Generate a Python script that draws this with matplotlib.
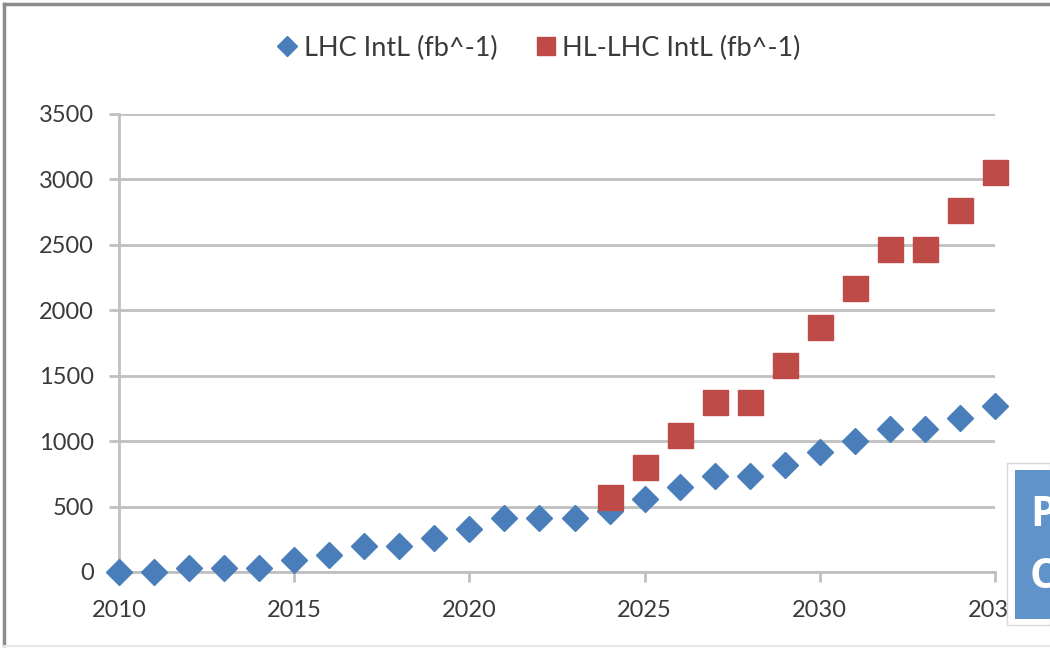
import matplotlib
matplotlib.use("Agg")
import matplotlib.pyplot as plt
from matplotlib.patches import Rectangle
from matplotlib.lines import Line2D

years = list(range(2010, 2036))
lhc = [2, 2, 30, 30, 30, 90, 130, 200, 200, 260, 330, 410, 410, 410, 465, 560,
       650, 730, 730, 820, 915, 1000, 1090, 1090, 1180, 1270]
hl_years = list(range(2024, 2036))
hl_lhc = [575, 805, 1050, 1300, 1300, 1580, 1870, 2170, 2470, 2470, 2770, 3060]
xticks = [2010, 2015, 2020, 2025, 2030, 2035]
yticks = [0, 500, 1000, 1500, 2000, 2500, 3000, 3500]
labels = ["LHC IntL (fb^-1)", "HL-LHC IntL (fb^-1)"]

plt.rcParams['font.family'] = ['Lato', 'DejaVu Sans']
W, H = 1050, 648
fig = plt.figure(figsize=(W / 100, H / 100), dpi=100)
ax = fig.add_axes([119 / W, 1 - 572 / H, (995 - 119) / W, (572 - 114) / H])

grid_c = '#c0c0c0'
text_c = '#3a3a3a'
blue = '#4a7ebb'
red = '#be4b48'

ax.set_xlim(2010, 2035)
ax.set_ylim(0, 3500)
ax.set_xticks(xticks)
ax.set_yticks(yticks)
ax.set_xticklabels([str(v) for v in xticks])
ax.set_yticklabels([str(v) for v in yticks])
ax.yaxis.grid(True, color=grid_c, linewidth=2)
ax.set_axisbelow(True)
for s in ['top', 'right']:
    ax.spines[s].set_visible(False)
for s in ['left', 'bottom']:
    ax.spines[s].set_color(grid_c)
    ax.spines[s].set_linewidth(2)
ax.tick_params(axis='y', length=7, width=2, color=grid_c, labelsize=17,
               labelcolor=text_c, pad=11)
ax.tick_params(axis='x', length=7, width=2, color=grid_c, labelsize=17,
               labelcolor=text_c, pad=13)

ax.plot(years, lhc, linestyle='none', marker='D', markersize=13.5,
        color=blue, clip_on=False, zorder=3, label=labels[0])
ax.plot(hl_years, hl_lhc, linestyle='none', marker='s', markersize=18,
        color=red, clip_on=False, zorder=4, label=labels[1])

leg = ax.legend(loc='center', bbox_to_anchor=((540 - 119) / (995 - 119),
                                              (572 - 48) / (572 - 114)),
                ncol=2, frameon=False, fontsize=19.5, markerscale=0.72,
                handlelength=0.6, handletextpad=0.3, columnspacing=1.5,
                numpoints=1)
for t in leg.get_texts():
    t.set_color(text_c)

# outer chart border
fig.add_artist(Line2D([4 / W, 4 / W], [1 - 4 / H, 1 - 645 / H], transform=fig.transFigure,
                      color='#8c8c8c', linewidth=2.5))
fig.add_artist(Line2D([4 / W, 1], [1 - 4 / H, 1 - 4 / H], transform=fig.transFigure,
                      color='#8c8c8c', linewidth=2.5))
fig.add_artist(Line2D([4 / W, 1], [1 - 646 / H, 1 - 646 / H], transform=fig.transFigure,
                      color='#e6e6e6', linewidth=1.5))

# overlapping box at bottom right (cut off by the picture edge, as in the original)
fig.add_artist(Rectangle((1007 / W, 1 - 625 / H), (W - 1007) / W, (625 - 463) / H,
                         transform=fig.transFigure, facecolor='white',
                         edgecolor='#d9d9d9', linewidth=1, zorder=10))
fig.add_artist(Rectangle((1015 / W, 1 - 619 / H), (W - 1015) / W, (619 - 470) / H,
                         transform=fig.transFigure, facecolor='#5f93c9',
                         edgecolor='none', zorder=11))
fig.text(1030 / W, 1 - 516 / H, 'P', color='white', fontsize=30, fontweight='bold',
         ha='left', va='center', zorder=12, family=['Open Sans', 'DejaVu Sans'])
fig.text(1030 / W, 1 - 578 / H, 'C', color='white', fontsize=30, fontweight='bold',
         ha='left', va='center', zorder=12, family=['Open Sans', 'DejaVu Sans'])

fig.savefig('out.png', dpi=100)
